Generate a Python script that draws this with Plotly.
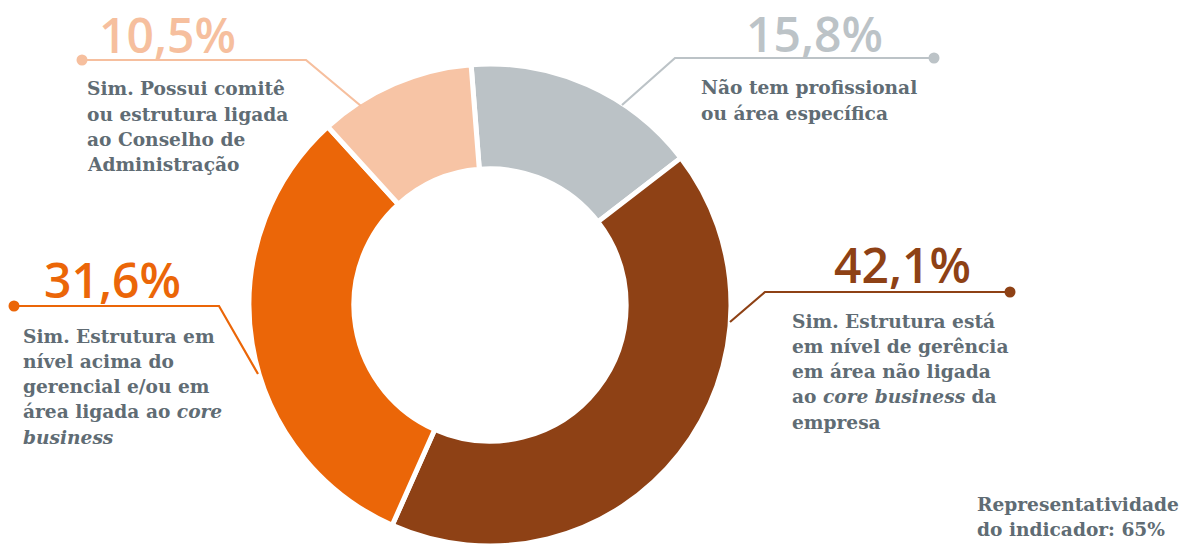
import plotly.graph_objects as go

# Survey answers (share of companies, %)
categories = [
    "Não tem profissional ou área específica",
    "Sim. Estrutura está em nível de gerência em área não ligada ao core business da empresa",
    "Sim. Estrutura em nível acima do gerencial e/ou em área ligada ao core business",
    "Sim. Possui comitê ou estrutura ligada ao Conselho de Administração",
]
values = [15.8, 42.1, 31.6, 10.5]
colors = ["#BBC2C6", "#8E4115", "#EB6608", "#F7C4A5"]
label_colors = ["#BCC3C7", "#8E4115", "#EB6608", "#F6BF9E"]

# Wrapped description lines per slice
desc_lines = [
    ["Não tem profissional", "ou área específica"],
    ["Sim. Estrutura está", "em nível de gerência", "em área não ligada",
     "ao <i>core business</i> da", "empresa"],
    ["Sim. Estrutura em", "nível acima do", "gerencial e/ou em",
     "área ligada ao <i>core</i>", "<i>business</i>"],
    ["Sim. Possui comitê", "ou estrutura ligada", "ao Conselho de",
     "Administração"],
]
footer_lines = ["Representatividade", "do indicador: 65%"]

W, H = 1188, 546


def px(x):
    return x / W


def py(y):
    return 1 - y / H


# Layout of each callout: value label (left, baseline), description (left, first baseline),
# leader polyline and end dot (pixel positions)
callouts = [
    dict(val=(744, 49), desc=(699, 94), line=[(622, 105), (675, 58), (934, 58)], dot=(934, 58)),
    dict(val=(832, 280), desc=(790, 327), line=[(730, 322), (765, 292), (1010, 292)], dot=(1010, 292)),
    dict(val=(42, 295), desc=(21, 342), line=[(258, 374), (219, 306), (14, 306)], dot=(14, 306)),
    dict(val=(97, 50), desc=(85, 95), line=[(361, 106), (306, 60), (82, 60)], dot=(82, 60)),
]

R = 241
cx, cy = 490, 309

fig = go.Figure(
    go.Pie(
        values=values,
        labels=categories,
        hole=0.565,
        sort=False,
        direction="clockwise",
        rotation=-4.5,
        marker=dict(colors=colors, line=dict(color="white", width=5)),
        textinfo="none",
        hoverinfo="label+percent",
        showlegend=False,
        domain=dict(x=[px(cx - R), px(cx + R)], y=[0, 2 * R / H]),
    )
)

shapes = []
annotations = []
VAL_FONT = "Open Sans"
DESC_FONT = "DejaVu Serif"
TEXT_GREY = "#606C74"
LINE_STEP = 25.3
DESC_SIZE = 18.6

for i, c in enumerate(callouts):
    col = label_colors[i]
    pts = c["line"]
    path = "M " + " L ".join(f"{px(x)},{py(y)}" for x, y in pts)
    shapes.append(dict(type="path", xref="paper", yref="paper", path=path,
                       line=dict(color=col, width=2.2)))
    dx, dy = c["dot"]
    r = 5.5
    shapes.append(dict(type="circle", xref="paper", yref="paper",
                       x0=px(dx - r), x1=px(dx + r), y0=py(dy + r), y1=py(dy - r),
                       fillcolor=col, line=dict(width=0)))
    vx, vy = c["val"]
    annotations.append(dict(
        x=px(vx), y=py(vy - 16), xref="paper", yref="paper",
        xanchor="left", yanchor="middle", showarrow=False,
        text=f"{values[i]:.1f}%".replace(".", ","),
        font=dict(family=VAL_FONT, size=48, color=col, weight=600),
    ))
    tx, ty = c["desc"]
    for k, line in enumerate(desc_lines[i]):
        annotations.append(dict(
            x=px(tx), y=py(ty + k * LINE_STEP - 6), xref="paper", yref="paper",
            xanchor="left", yanchor="middle", showarrow=False, text=line,
            font=dict(family=DESC_FONT, size=DESC_SIZE, color=TEXT_GREY, weight="bold"),
        ))

for k, line in enumerate(footer_lines):
    annotations.append(dict(
        x=px(975), y=py(510 + k * 25 - 6), xref="paper", yref="paper",
        xanchor="left", yanchor="middle", showarrow=False, text=line,
        font=dict(family=DESC_FONT, size=DESC_SIZE, color=TEXT_GREY, weight="bold"),
    ))

fig.update_layout(
    width=W, height=H,
    margin=dict(l=0, r=0, t=0, b=0),
    paper_bgcolor="white", plot_bgcolor="white",
    shapes=shapes, annotations=annotations,
)

fig.write_html("out.html")
